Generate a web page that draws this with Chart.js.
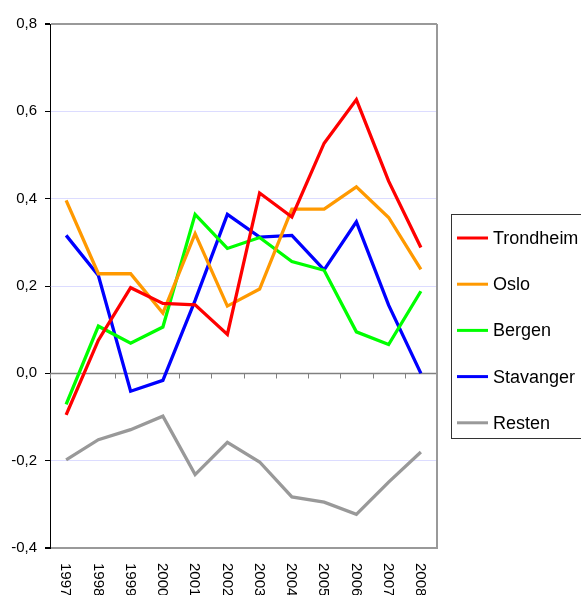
<!DOCTYPE html>
<html>
<head>
<meta charset="utf-8">
<script src="https://cdn.jsdelivr.net/npm/chart.js@4/dist/chart.umd.min.js"></script>
<style>
html,body{margin:0;padding:0;background:#fff;}
#wrap{width:581px;height:595px;position:relative;}
</style>
</head>
<body>
<div id="wrap"><canvas id="c" width="581" height="595"></canvas></div>
<script>
const years = ['1997','1998','1999','2000','2001','2002','2003','2004','2005','2006','2007','2008'];
const trondheim = [-0.095, 0.076, 0.196, 0.160, 0.157, 0.089, 0.413, 0.358, 0.527, 0.627, 0.440, 0.288];
const oslo      = [0.396, 0.228, 0.228, 0.138, 0.320, 0.154, 0.193, 0.376, 0.376, 0.427, 0.357, 0.238];
const bergen    = [-0.071, 0.108, 0.069, 0.106, 0.364, 0.286, 0.311, 0.256, 0.236, 0.095, 0.066, 0.188];
const stavanger = [0.316, 0.224, -0.041, -0.016, 0.167, 0.364, 0.312, 0.316, 0.237, 0.347, 0.156, 0.0];
const resten    = [-0.198, -0.152, -0.129, -0.098, -0.232, -0.158, -0.203, -0.283, -0.295, -0.323, -0.249, -0.180];
const seriesNames = ['Trondheim','Oslo','Bergen','Stavanger','Resten'];
const seriesColors = ['#ff0000','#ff9900','#00ff00','#0000ff','#999999'];
const yTickMin = -0.4, yTickMax = 0.8, yTickStep = 0.2;

const FONT = '"Liberation Sans", Arial, sans-serif';

const customDraw = {
  id: 'customDraw',
  beforeDatasetsDraw(chart) {
    const ctx = chart.ctx, x = chart.scales.x, y = chart.scales.y, a = chart.chartArea;
    const y0 = Math.round(y.getPixelForValue(0)) + 0.5;
    ctx.save();
    // zero line
    ctx.strokeStyle = '#808080';
    ctx.lineWidth = 1.5;
    ctx.beginPath(); ctx.moveTo(a.left, y0); ctx.lineTo(a.right, y0); ctx.stroke();
    // category boundary ticks at zero line
    ctx.lineWidth = 1;
    const step = x.getPixelForValue(1) - x.getPixelForValue(0);
    for (let i = 0; i <= years.length; i++) {
      const px = Math.round(x.getPixelForValue(i) - step / 2) + 0.5;
      ctx.beginPath(); ctx.moveTo(px, y0); ctx.lineTo(px, y0 + 5); ctx.stroke();
    }
    // right border
    ctx.strokeStyle = '#999999';
    ctx.lineWidth = 2;
    ctx.beginPath(); ctx.moveTo(a.right, a.top); ctx.lineTo(a.right, a.bottom + 1); ctx.stroke();
    ctx.restore();
  },
  afterDraw(chart) {
    const ctx = chart.ctx, x = chart.scales.x, a = chart.chartArea;
    ctx.save();
    // rotated category labels
    ctx.fillStyle = '#000';
    ctx.font = '15px ' + FONT;
    ctx.textAlign = 'left';
    ctx.textBaseline = 'middle';
    years.forEach((lab, i) => {
      ctx.save();
      ctx.translate(x.getPixelForValue(i) - 0.5, a.bottom + 15);
      ctx.rotate(Math.PI / 2);
      ctx.fillText(lab, 0, 0);
      ctx.restore();
    });
    // legend
    const bx = 451.5, by = 214.5, bw = 140, bh = 224;
    ctx.strokeStyle = '#333333';
    ctx.lineWidth = 1;
    ctx.strokeRect(bx, by, bw, bh);
    ctx.font = '18px ' + FONT;
    chart.data.datasets.forEach((ds, i) => {
      const ly = 238 + i * 46.2;
      ctx.strokeStyle = ds.borderColor;
      ctx.lineWidth = 3;
      ctx.beginPath(); ctx.moveTo(457, ly); ctx.lineTo(488, ly); ctx.stroke();
      ctx.fillStyle = '#000';
      ctx.fillText(ds.label, 493, ly + 1);
    });
    ctx.restore();
  }
};

const allSeries = [trondheim, oslo, bergen, stavanger, resten];
new Chart(document.getElementById('c'), {
  type: 'line',
  data: {
    labels: years,
    datasets: allSeries.map((d, i) => ({
      label: seriesNames[i],
      data: d,
      borderColor: seriesColors[i],
      backgroundColor: seriesColors[i],
      borderWidth: 3.3,
      pointRadius: 0,
      tension: 0,
      fill: false
    }))
  },
  options: {
    responsive: false,
    animation: false,
    devicePixelRatio: 1,
    layout: { padding: { left: 0, top: 24, right: 144, bottom: 47 } },
    plugins: { legend: { display: false }, tooltip: { enabled: false } },
    scales: {
      x: {
        type: 'category',
        display: false,
        offset: true
      },
      y: {
        min: yTickMin,
        max: yTickMax,
        afterFit(scale) { scale.width = 50; },
        ticks: {
          stepSize: yTickStep,
          padding: 8,
          color: '#000',
          font: { family: FONT, size: 15 },
          callback: v => (Math.round(v * 10) / 10).toFixed(1).replace('.', ',')
        },
        grid: {
          tickLength: 5,
          tickColor: '#000',
          color: ctx => {
            const v = Math.round(ctx.tick.value * 10) / 10;
            if (v === 0.8 || v === -0.4) return '#999999';
            if (v === 0) return 'rgba(0,0,0,0)';
            return '#dcdcff';
          },
          lineWidth: ctx => {
            const v = Math.round(ctx.tick.value * 10) / 10;
            return (v === 0.8 || v === -0.4) ? 2 : 1;
          }
        },
        border: { color: '#000', width: 1 }
      }
    }
  },
  plugins: [customDraw]
});
</script>
</body>
</html>
